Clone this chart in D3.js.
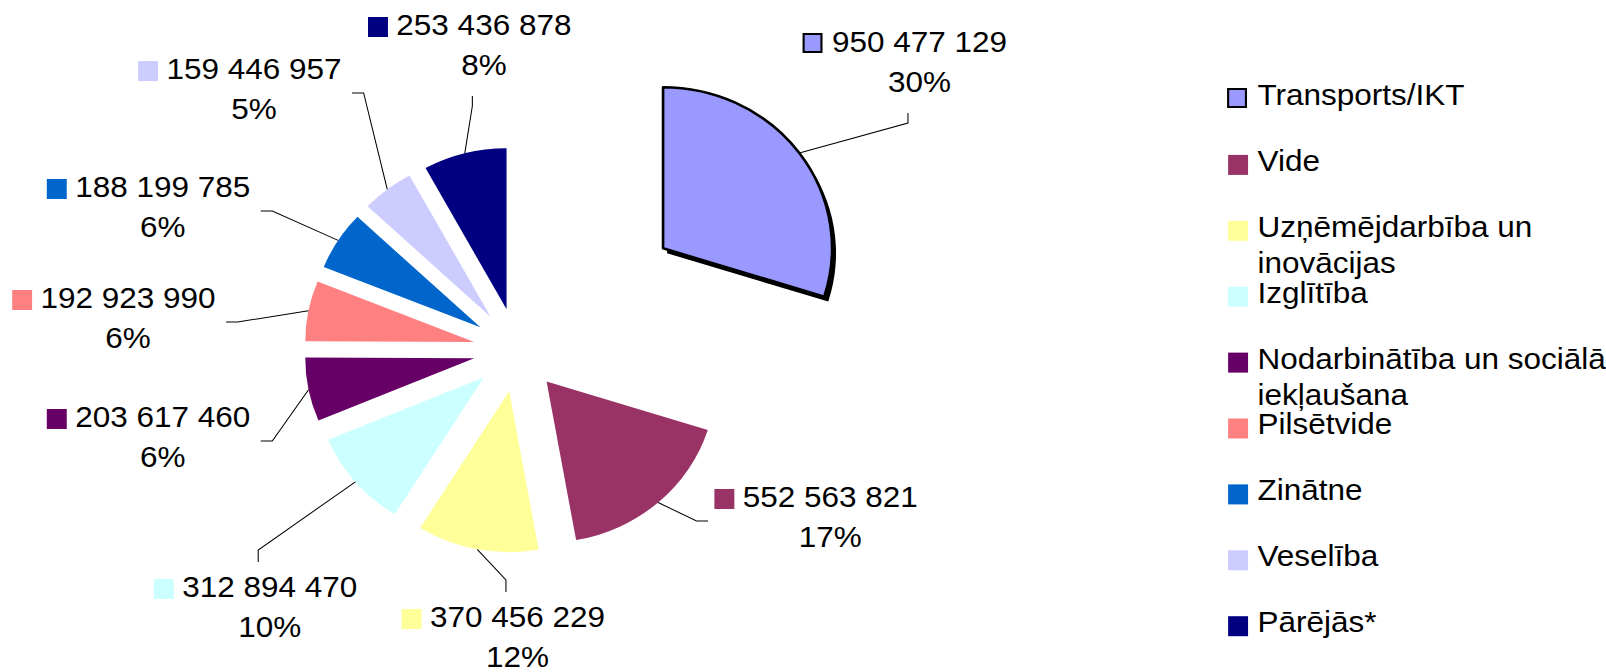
<!DOCTYPE html>
<html>
<head>
<meta charset="utf-8">
<script src="https://cdn.jsdelivr.net/npm/d3@7"></script>
<style>
  html, body { margin: 0; padding: 0; background: #fff; overflow: hidden; }
  svg { display: block; font-family: "Liberation Sans", Arial, sans-serif; }
</style>
</head>
<body>
<div id="chart"></div>
<script>
const categories = ["Transports/IKT", "Vide", "Uzņēmējdarbība un inovācijas", "Izglītība",
    "Nodarbinātība un sociālā iekļaušana", "Pilsētvide", "Zinātne", "Veselība", "Pārējās*"];
const values = [950477129, 552563821, 370456229, 312894470, 203617460, 192923990, 188199785, 159446957, 253436878];
const colors = ["#9999FF", "#993366", "#FFFF99", "#CCFFFF", "#660066", "#FF8080", "#0066CC", "#CCCCFF", "#000080"];

// where each data label sits (text centre, first baseline) and which side its leader meets
const labelLayout = [
    { x: 876, y: 52, side: "bottom" },
    { x: 791, y: 507, side: "left" },
    { x: 493, y: 627, side: "top" },
    { x: 257, y: 597, side: "top" },
    { x: 155, y: 427, side: "right" },
    { x: 122, y: 308, side: "right" },
    { x: 155, y: 197, side: "right" },
    { x: 242, y: 79, side: "right" },
    { x: 461, y: 35, side: "bottom" }
];

const W = 1530, H = 672;   // drawn a little narrower, then stretched to 1606 like the source
const cx = 493, cy = 350, R = 161;
const fontSize = 30;

const svg = d3.select("#chart").append("svg")
    .attr("width", 1606)
    .attr("height", H)
    .attr("viewBox", `0 0 ${W} ${H}`)
    .attr("preserveAspectRatio", "none");

const total = d3.sum(values);
const fmtNum = d3.formatLocale({ decimal: ",", thousands: " ", grouping: [3], currency: ["", ""] }).format(",d");
const fmtPct = d3.format(".0%");

const pie = d3.pie().sort(null).value(d => d)(values);
const arc = d3.arc().innerRadius(0).outerRadius(R);

const explode = i => i === 0 ? 172 : 42;
const mid = d => (d.startAngle + d.endAngle) / 2;
const polar = (a, r) => [Math.sin(a) * r, -Math.cos(a) * r];

const g = svg.append("g").attr("transform", `translate(${cx},${cy})`);

// slices
pie.forEach((d, i) => {
    const [ox, oy] = polar(mid(d), explode(i));
    const s = g.append("g").attr("transform", `translate(${ox},${oy})`);
    if (i === 0) {
        // dark drop shadow on the pulled-out slice
        s.append("path")
            .attr("d", arc(d))
            .attr("transform", "translate(3.8,5)")
            .attr("fill", "#000");
        s.append("path")
            .attr("d", arc(d))
            .attr("fill", colors[i])
            .attr("stroke", "#000")
            .attr("stroke-width", 2.5)
            .attr("stroke-linejoin", "round");
    } else {
        s.append("path")
            .attr("d", arc(d))
            .attr("fill", colors[i]);
    }
});

// data labels + leader lines
const labels = svg.append("g");
pie.forEach((d, i) => {
    const L = labelLayout[i];
    const lg = labels.append("g");

    const t1 = lg.append("text")
        .attr("x", L.x).attr("y", L.y)
        .attr("text-anchor", "middle")
        .attr("font-size", fontSize)
        .attr("fill", "#000")
        .text(fmtNum(d.value));
    lg.append("text")
        .attr("x", L.x).attr("y", L.y + 40)
        .attr("text-anchor", "middle")
        .attr("font-size", fontSize)
        .attr("fill", "#000")
        .text(fmtPct(d.value / total));

    const w = t1.node().getComputedTextLength();
    const textLeft = L.x - w / 2, textRight = L.x + w / 2;
    const mLeft = textLeft - 8 - 19;
    lg.append("rect")
        .attr("x", mLeft).attr("y", L.y - 18)
        .attr("width", i === 0 ? 17 : 19).attr("height", i === 0 ? 18 : 20)
        .attr("fill", colors[i])
        .attr("stroke", i === 0 ? "#000" : "none")
        .attr("stroke-width", 2);

    // leader from the slice edge to the label
    const [ox, oy] = polar(mid(d), explode(i) + R);
    const start = [cx + ox, cy + oy];
    let elbow, end;
    if (L.side === "bottom") {
        end = [L.x - 11, L.y + 61]; elbow = [L.x - 11, L.y + 71];
    } else if (L.side === "top") {
        end = [L.x - 11, L.y - 35]; elbow = [L.x - 11, L.y - 47];
    } else if (L.side === "left") {
        end = [mLeft - 6, L.y + 14]; elbow = [mLeft - 17, L.y + 14];
    } else {
        end = [textRight + 10, L.y + 14]; elbow = [textRight + 21, L.y + 14];
    }
    labels.append("path")
        .attr("d", d3.line()([start, elbow, end]))
        .attr("fill", "none")
        .attr("stroke", "#000")
        .attr("stroke-width", 1);
});

// legend
const legendX = 1170, legendTop = 89, legendStep = 65.9, maxW = 360;
const legend = svg.append("g");
categories.forEach((c, i) => {
    const y0 = legendTop + i * legendStep;
    legend.append("rect")
        .attr("x", legendX).attr("y", y0)
        .attr("width", i === 0 ? 17 : 19).attr("height", i === 0 ? 18 : 20)
        .attr("fill", colors[i])
        .attr("stroke", i === 0 ? "#000" : "none")
        .attr("stroke-width", 2);

    const txt = legend.append("text")
        .attr("x", legendX + 28).attr("y", y0 + 16)
        .attr("font-size", fontSize)
        .attr("fill", "#000");

    // simple word wrap
    const words = c.split(" ");
    let line = [];
    let ts = txt.append("tspan").attr("x", legendX + 28).attr("dy", 0);
    words.forEach(wd => {
        line.push(wd);
        ts.text(line.join(" "));
        if (ts.node().getComputedTextLength() > maxW && line.length > 1) {
            line.pop();
            ts.text(line.join(" "));
            line = [wd];
            ts = txt.append("tspan").attr("x", legendX + 28).attr("dy", 36.5).text(wd);
        }
    });
});
</script>
</body>
</html>
